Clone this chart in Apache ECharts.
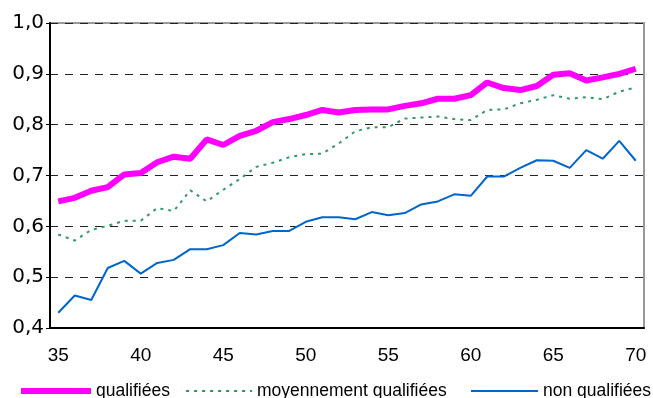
<!DOCTYPE html>
<html>
<head>
<meta charset="utf-8">
<script src="https://cdn.jsdelivr.net/npm/echarts@6/dist/echarts.min.js"></script>
<style>
  html, body { margin: 0; padding: 0; background: #fff; }
  #chart { width: 653px; height: 398px; }
</style>
</head>
<body>
<div id="chart"></div>
<script>
// Ages (category axis)
const ages = ['35','36','37','38','39','40','41','42','43','44','45','46','47','48','49','50',
  '51','52','53','54','55','56','57','58','59','60','61','62','63','64','65','66','67','68','69','70'];

// Share by age, three qualification levels
const qualifiees = [0.649,0.656,0.670,0.677,0.702,0.705,0.726,0.737,0.733,0.771,0.760,0.778,
  0.788,0.805,0.811,0.819,0.829,0.824,0.829,0.830,0.830,0.837,0.842,0.851,0.851,0.858,
  0.883,0.872,0.868,0.876,0.898,0.901,0.887,0.893,0.900,0.910];
const moyennement = [0.584,0.572,0.593,0.601,0.611,0.611,0.636,0.630,0.671,0.649,0.672,0.693,
  0.717,0.725,0.736,0.742,0.743,0.763,0.787,0.795,0.795,0.812,0.814,0.816,0.811,0.809,
  0.829,0.830,0.842,0.849,0.858,0.851,0.854,0.850,0.865,0.873];
const nonQualifiees = [0.430,0.464,0.455,0.518,0.532,0.507,0.528,0.534,0.555,0.555,0.563,0.587,
  0.584,0.591,0.591,0.609,0.618,0.618,0.614,0.628,0.622,0.626,0.643,0.649,0.663,0.660,
  0.698,0.698,0.715,0.730,0.729,0.715,0.750,0.733,0.768,0.729];

const seriesNames = ['qualifiées', 'moyennement qualifiées', 'non qualifiées'];
const seriesColors = ['#ff00ff', '#339966', '#0066cc'];
const seriesWidths = [6, 2, 2];

const chart = echarts.init(document.getElementById('chart'), null, { renderer: 'canvas' });

const legendText = { fontFamily: 'Liberation Sans, Arial, sans-serif', fontSize: 17.5, color: '#000' };
// Legend entries show the line only, no marker
const legendCommon = { top: 382, padding: 0, itemHeight: 14, textStyle: legendText, itemStyle: { opacity: 0 } };

chart.setOption({
  animation: false,
  backgroundColor: '#fff',
  grid: {
    left: 50, right: 9, top: 23, bottom: 70,
    show: true, borderColor: '#9a9a9a', borderWidth: 2, backgroundColor: 'transparent'
  },
  legend: [
    Object.assign({ data: [seriesNames[0]], left: 18, itemWidth: 70,
      lineStyle: { width: seriesWidths[0] } }, legendCommon),
    Object.assign({ data: [seriesNames[1]], left: 185, itemWidth: 66,
      lineStyle: { width: seriesWidths[1] } }, legendCommon),
    Object.assign({ data: [seriesNames[2]], left: 470, itemWidth: 67,
      lineStyle: { width: seriesWidths[2] } }, legendCommon)
  ],
  xAxis: {
    type: 'category',
    data: ages,
    boundaryGap: true,
    axisLine: { lineStyle: { color: '#000', width: 2 } },
    axisTick: { interval: 4, length: 6, lineStyle: { color: '#000', width: 1 } },
    axisLabel: {
      interval: 4, margin: 18, color: '#000',
      fontFamily: 'Liberation Sans, Arial, sans-serif', fontSize: 19
    },
    splitLine: { show: false }
  },
  yAxis: {
    type: 'value',
    min: 0.4, max: 1.0, interval: 0.1,
    axisLine: { show: true, lineStyle: { color: '#000', width: 2 } },
    axisTick: { show: true, length: 4, lineStyle: { color: '#000', width: 1 } },
    axisLabel: {
      margin: 6, color: '#000',
      fontFamily: 'DejaVu Sans, sans-serif', fontSize: 20,
      formatter: v => v.toFixed(1).replace('.', ',')
    },
    splitLine: { show: true, lineStyle: { color: '#222', width: 1, type: [8, 7] } }
  },
  series: [
    {
      name: seriesNames[0], type: 'line', data: qualifiees, symbol: 'none', z: 4,
      lineStyle: { color: seriesColors[0], width: seriesWidths[0] }, itemStyle: { color: seriesColors[0] }
    },
    {
      name: seriesNames[1], type: 'line', data: moyennement, symbol: 'none', z: 3,
      lineStyle: { color: seriesColors[1], width: seriesWidths[1], type: [3, 5] }, itemStyle: { color: seriesColors[1] }
    },
    {
      name: seriesNames[2], type: 'line', data: nonQualifiees, symbol: 'none', z: 3,
      lineStyle: { color: seriesColors[2], width: seriesWidths[2] }, itemStyle: { color: seriesColors[2] }
    }
  ]
});
</script>
</body>
</html>
